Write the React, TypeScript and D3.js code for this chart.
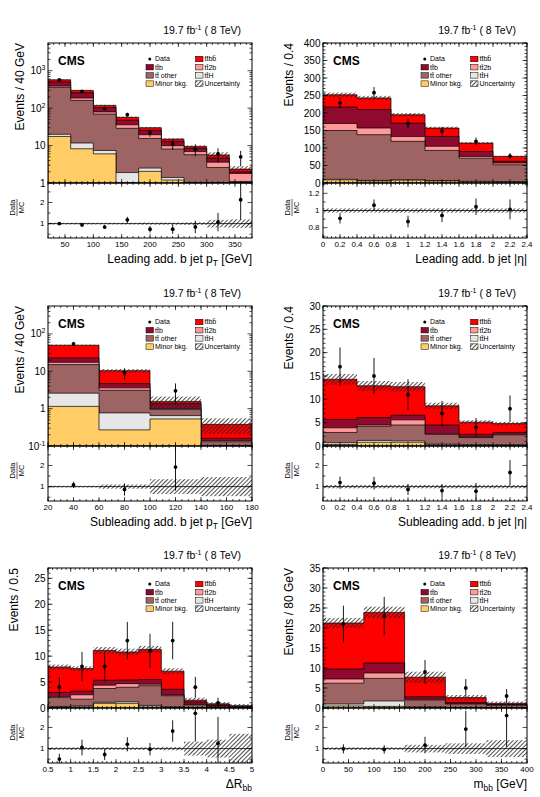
import React from 'react';
import * as d3 from 'd3';

const FONT = "'Liberation Sans', Arial, Helvetica, sans-serif";

// stack order, bottom to top: minor bkg, ttH, tt other, tt2b, ttb, ttbb
const procColors = ['#ffcc66', '#e6e6e6', '#9e6464', '#ff9999', '#8f0a2e', '#ff0000'];

// Leading add. b jet pT
const ptLeadEdges = [20, 60, 100, 140, 180, 220, 260, 300, 340, 380];
const ptLeadMinor = [17.5, 8.2, 6, 0.5, 2.05, 1.2, 0.3, 0.2, 0.05];
const ptLeadTtH = [2.5, 3.5, 1.4, 1.4, 0.45, 0.2, 0.2, 0.1, 0.05];
const ptLeadOther = [340, 150, 62, 27, 13, 6.7, 5.2, 2.3, 1.0];
const ptLeadTt2b = [30, 25, 10, 7, 4, 1.8, 1.2, 1, 0.7];
const ptLeadTtb = [110, 70, 24, 12, 6, 3, 1.6, 1, 0.15];
const ptLeadTtbb = [70, 40, 15, 9, 4.5, 2, 1, 1, 0.4];
const ptLeadData = [570, 279, 99, 67, 22, 11, 8, 6, 5];
const ptLeadUnc = [0.04, 0.04, 0.04, 0.04, 0.05, 0.05, 0.06, 0.18, 0.2];

// Leading add. b jet |eta|
const etaLeadEdges = [0, 0.4, 0.8, 1.2, 1.6, 2.0, 2.4];
const etaLeadMinor = [9, 6, 8, 6, 4, 3];
const etaLeadTtH = [1.5, 1.5, 1.2, 1, 0.8, 0.5];
const etaLeadOther = [139.5, 130.5, 109.8, 86, 66.2, 48.5];
const etaLeadTt2b = [20, 19, 14, 12, 5, 5];
const etaLeadTtb = [47, 53, 38, 28, 14, 5];
const etaLeadTtbb = [35, 33, 24, 24, 24, 14];
const etaLeadData = [229, 258, 170, 148, 119, 77];
const etaLeadUnc = [0.025, 0.025, 0.025, 0.025, 0.025, 0.025];

// Subleading add. b jet pT
const ptSubEdges = [20, 60, 100, 140, 180];
const ptSubMinor = [1.15, 0.27, 0.53, 0];
const ptSubTtH = [1.45, 0.5, 0.12, 0];
const ptSubOther = [12.5, 2.33, 0.29, 0.13];
const ptSubTt2b = [2.3, 0.5, 0.06, 0.01];
const ptSubTtb = [5.4, 1.1, 0.36, 0.02];
const ptSubTtbb = [27, 5.7, 0.2, 0.22];
const ptSubData = [54, 9, 3, 0];
const ptSubUnc = [0.04, 0.1, 0.35, 0.45];

// Subleading add. b jet |eta|
const etaSubEdges = [0, 0.4, 0.8, 1.2, 1.6, 2.0, 2.4];
const etaSubMinor = [0.3, 0.8, 0.8, 0.2, 0.1, 0.1];
const etaSubTtH = [0.4, 0.4, 0.3, 0.2, 0.2, 0.2];
const etaSubOther = [2.2, 3.0, 3.4, 2.1, 1.5, 2.1];
const etaSubTt2b = [1.0, 0.3, 1.1, 0.1, 0.1, 0.1];
const etaSubTtb = [1.8, 1.6, 1.0, 1.9, 0.6, 0.4];
const etaSubTtbb = [8.6, 6.8, 6.1, 4.1, 2.6, 1.9];
const etaSubData = [17, 15, 11, 7, 4, 8];
const etaSubUnc = [0.08, 0.08, 0.08, 0.08, 0.08, 0.08];

// Delta R bb
const drEdges = [0.5, 1.0, 1.5, 2.0, 2.5, 3.0, 3.5, 4.0, 4.5, 5.0];
const drMinor = [0.1, 0.2, 0.9, 0.9, 0.2, 0.1, 0.02, 0.01, 0];
const drTtH = [0.2, 0.2, 0.2, 0.3, 0.3, 0.1, 0.03, 0.01, 0];
const drOther = [1.7, 1.3, 2.66, 2.8, 3.8, 2.16, 0.55, 0.3, 0.2];
const drTt2b = [0.2, 0.85, 0.64, 0.7, 0.3, 0.14, 0.1, 0.05, 0.02];
const drTtb = [0.8, 0.7, 0.96, 0.7, 0.9, 1.1, 0.45, 0.2, 0.08];
const drTtbb = [4.9, 4.35, 5.74, 5.4, 5.8, 3.5, 0.35, 0.23, 0.15];
const drData = [4, 8, 8, 13, 11, 13, 4, 1, 0];
const drUnc = [0.06, 0.06, 0.06, 0.06, 0.06, 0.08, 0.33, 0.42, 0.7];

// m_bb
const mbbEdges = [0, 80, 160, 240, 320, 400];
const mbbMinor = [0.5, 0.4, 0.1, 0.05, 0.02];
const mbbTtH = [0.5, 1.35, 0.2, 0.1, 0.05];
const mbbOther = [5.2, 5.65, 1.7, 0.85, 0.6];
const mbbTt2b = [1.05, 1.35, 0.2, 0.1, 0.05];
const mbbTtb = [2.5, 2.5, 0.6, 0.3, 0.15];
const mbbTtbb = [11.5, 12.65, 4.9, 1.2, 0.3];
const mbbData = [21, 23, 9, 5, 3];
const mbbUnc = [0.06, 0.06, 0.18, 0.25, 0.4];

// axis ticks
const steps = (a: number, b: number, s: number) =>
  d3.range(Math.round((b - a) / s) + 1).map(i => +(a + i * s).toFixed(4));
const logMinor = (lo: number, hi: number) => {
  const out: number[] = [];
  for (let e = Math.floor(Math.log10(lo)); e <= Math.ceil(Math.log10(hi)); e++)
    for (let k = 2; k <= 9; k++) {
      const v = k * Math.pow(10, e);
      if (v > lo && v < hi) out.push(v);
    }
  return out;
};

const ratioMajor = [1, 2];
const ratioMinor = [0.5, 1.5, 2.5];
const ratioMajorEta = [0.8, 1, 1.2];
const ratioMinorEta = [0.7, 0.9, 1.1, 1.3];

const sub = (t: string) => <tspan dy={3} fontSize={8.5}>{t}</tspan>;

type Lab = string | [string, string];
type Cfg = {
  edges: number[]; comps: number[][]; data: number[]; unc: number[];
  log: boolean; yDomain: [number, number]; yMajor: number[]; yMinor: number[]; yLabels: Lab[];
  xDomain: [number, number]; xMajor: number[]; xMinor: number[];
  rDomain: [number, number]; rMajor: number[]; rMinor: number[];
  yTitle: string; yTitleX: number; xTitle: React.ReactNode;
};

const panels: Cfg[] = [
  {
    edges: ptLeadEdges, comps: [ptLeadMinor, ptLeadTtH, ptLeadOther, ptLeadTt2b, ptLeadTtb, ptLeadTtbb],
    data: ptLeadData, unc: ptLeadUnc, log: true, yDomain: [1, 5500],
    yMajor: [1, 10, 100, 1000], yMinor: logMinor(1, 5500), yLabels: ['1', '10', ['10', '2'], ['10', '3']],
    xDomain: [20, 380], xMajor: steps(50, 350, 50), xMinor: steps(20, 380, 10),
    rDomain: [0.32, 2.92], rMajor: ratioMajor, rMinor: ratioMinor,
    yTitle: 'Events / 40 GeV', yTitleX: -24.5,
    xTitle: <>Leading add. b jet p{sub('T')}<tspan dy={-3}> [GeV]</tspan></>,
  },
  {
    edges: etaLeadEdges, comps: [etaLeadMinor, etaLeadTtH, etaLeadOther, etaLeadTt2b, etaLeadTtb, etaLeadTtbb],
    data: etaLeadData, unc: etaLeadUnc, log: false, yDomain: [0, 400],
    yMajor: steps(0, 400, 50), yMinor: steps(0, 400, 10), yLabels: steps(0, 400, 50).map(String),
    xDomain: [0, 2.4], xMajor: steps(0, 2.4, 0.2), xMinor: steps(0, 2.4, 0.05),
    rDomain: [0.68, 1.32], rMajor: ratioMajorEta, rMinor: ratioMinorEta,
    yTitle: 'Events / 0.4', yTitleX: -30.5,
    xTitle: 'Leading add. b jet |η|',
  },
  {
    edges: ptSubEdges, comps: [ptSubMinor, ptSubTtH, ptSubOther, ptSubTt2b, ptSubTtb, ptSubTtbb],
    data: ptSubData, unc: ptSubUnc, log: true, yDomain: [0.1, 560],
    yMajor: [0.1, 1, 10, 100], yMinor: logMinor(0.1, 560), yLabels: [['10', '-1'], '1', '10', ['10', '2']],
    xDomain: [20, 180], xMajor: steps(20, 180, 20), xMinor: steps(20, 180, 5),
    rDomain: [0.32, 2.92], rMajor: ratioMajor, rMinor: ratioMinor,
    yTitle: 'Events / 40 GeV', yTitleX: -24.5,
    xTitle: <>Subleading add. b jet p{sub('T')}<tspan dy={-3}> [GeV]</tspan></>,
  },
  {
    edges: etaSubEdges, comps: [etaSubMinor, etaSubTtH, etaSubOther, etaSubTt2b, etaSubTtb, etaSubTtbb],
    data: etaSubData, unc: etaSubUnc, log: false, yDomain: [0, 30],
    yMajor: steps(0, 30, 5), yMinor: steps(0, 30, 1), yLabels: steps(0, 30, 5).map(String),
    xDomain: [0, 2.4], xMajor: steps(0, 2.4, 0.2), xMinor: steps(0, 2.4, 0.05),
    rDomain: [0.32, 2.92], rMajor: ratioMajor, rMinor: ratioMinor,
    yTitle: 'Events / 0.4', yTitleX: -30.5,
    xTitle: 'Subleading add. b jet |η|',
  },
  {
    edges: drEdges, comps: [drMinor, drTtH, drOther, drTt2b, drTtb, drTtbb],
    data: drData, unc: drUnc, log: false, yDomain: [0, 27],
    yMajor: steps(0, 25, 5), yMinor: steps(0, 27, 1), yLabels: steps(0, 25, 5).map(String),
    xDomain: [0.5, 5], xMajor: steps(0.5, 5, 0.5), xMinor: steps(0.5, 5, 0.1),
    rDomain: [0.32, 2.92], rMajor: ratioMajor, rMinor: ratioMinor,
    yTitle: 'Events / 0.5', yTitleX: -30.5,
    xTitle: <>ΔR{sub('bb')}</>,
  },
  {
    edges: mbbEdges, comps: [mbbMinor, mbbTtH, mbbOther, mbbTt2b, mbbTtb, mbbTtbb],
    data: mbbData, unc: mbbUnc, log: false, yDomain: [0, 35],
    yMajor: steps(0, 35, 5), yMinor: steps(0, 35, 1), yLabels: steps(0, 35, 5).map(String),
    xDomain: [0, 400], xMajor: steps(0, 400, 50), xMinor: steps(0, 400, 10),
    rDomain: [0.32, 2.92], rMajor: ratioMajor, rMinor: ratioMinor,
    yTitle: 'Events / 80 GeV', yTitleX: -30.5,
    xTitle: <>m{sub('bb')}<tspan dy={-3}> [GeV]</tspan></>,
  },
];

const W = 204, MH = 140, RH = 55;

function Legend({ x0, top }: { x0: number; top: number }) {
  const rows = [16, 24.2, 32.4, 40.6].map(d => top + d);
  const c1 = x0 + 98, c2 = x0 + 147.5, bw = 7.5, bh = 5.5;
  const box = (x: number, yc: number, fill: string) =>
    <rect x={x} y={yc - bh / 2} width={bw} height={bh} fill={fill} stroke="#000" strokeWidth={0.5} />;
  const lab = (x: number, yc: number, t: string) =>
    <text x={x + bw + 1.5} y={yc + 2.4} fontSize={7}>{t}</text>;
  return (
    <g>
      <circle cx={c1 + bw / 2} cy={rows[0]} r={1.5} fill="#000" />
      {lab(c1, rows[0], 'Data')}
      {box(c1, rows[1], procColors[4])}{lab(c1, rows[1], 'tt\u0304b')}
      {box(c1, rows[2], procColors[2])}{lab(c1, rows[2], 'tt\u0304 other')}
      {box(c1, rows[3], procColors[0])}{lab(c1, rows[3], 'Minor bkg.')}
      {box(c2, rows[0], procColors[5])}{lab(c2, rows[0], 'tt\u0304bb\u0304')}
      {box(c2, rows[1], procColors[3])}{lab(c2, rows[1], 'tt\u03042b')}
      {box(c2, rows[2], procColors[1])}{lab(c2, rows[2], 'tt\u0304H')}
      {box(c2, rows[3], 'url(#hatch)')}{lab(c2, rows[3], 'Uncertainty')}
    </g>
  );
}

function Panel({ cfg, x0, top, id }: { cfg: Cfg; x0: number; top: number; id: number }) {
  const x1 = x0 + W, yb = top + MH, rb = yb + RH;
  const x = d3.scaleLinear().domain(cfg.xDomain).range([x0, x1]);
  const y = (cfg.log ? d3.scaleLog() : d3.scaleLinear()).domain(cfg.yDomain).range([yb, top]).clamp(true);
  const yv = (v: number) => y(Math.max(v, cfg.yDomain[0]));
  const ry = d3.scaleLinear().domain(cfg.rDomain).range([rb, yb]);
  const nb = cfg.edges.length - 1;
  const bins = d3.range(nb);
  const cum = cfg.comps.map((_, k) => bins.map(i => d3.sum(cfg.comps.slice(0, k + 1), c => c[i])));
  const total = cum[cum.length - 1];
  const area = d3.area<[number, number]>().x(d => x(d[0])).y0(yb).y1(d => yv(d[1]));
  const stepPts = (vals: number[]) =>
    vals.flatMap((v, i) => [[cfg.edges[i], v], [cfg.edges[i + 1], v]] as [number, number][]);
  const mid = (i: number) => x((cfg.edges[i] + cfg.edges[i + 1]) / 2);
  const fmt = (v: number) => String(+v.toFixed(2));

  const xTicks = (yBase: number, yTop: number) => (
    <g stroke="#000" strokeWidth={0.7}>
      {cfg.xMinor.map((v, i) => <g key={'n' + i}>
        <line x1={x(v)} x2={x(v)} y1={yBase} y2={yBase - 2} />
        <line x1={x(v)} x2={x(v)} y1={yTop} y2={yTop + 2} /></g>)}
      {cfg.xMajor.map((v, i) => <g key={'j' + i}>
        <line x1={x(v)} x2={x(v)} y1={yBase} y2={yBase - 4} />
        <line x1={x(v)} x2={x(v)} y1={yTop} y2={yTop + 4} /></g>)}
    </g>
  );
  const yTicks = (sc: (v: number) => number, major: number[], minor: number[]) => (
    <g stroke="#000" strokeWidth={0.7}>
      {minor.map((v, i) => <g key={'n' + i}>
        <line x1={x0} x2={x0 + 2.5} y1={sc(v)} y2={sc(v)} />
        <line x1={x1} x2={x1 - 2.5} y1={sc(v)} y2={sc(v)} /></g>)}
      {major.map((v, i) => <g key={'j' + i}>
        <line x1={x0} x2={x0 + 4.5} y1={sc(v)} y2={sc(v)} />
        <line x1={x1} x2={x1 - 4.5} y1={sc(v)} y2={sc(v)} /></g>)}
    </g>
  );

  return (
    <g>
      <defs>
        <clipPath id={'m' + id}><rect x={x0} y={top} width={W} height={MH} /></clipPath>
        <clipPath id={'r' + id}><rect x={x0} y={yb} width={W} height={RH} /></clipPath>
      </defs>

      {/* stacked histograms, drawn top layer first */}
      <g clipPath={`url(#m${id})`}>
        {cum.map((c, k) => k).reverse().map(k => (
          <path key={k} d={area(stepPts(cum[k])) || ''} fill={procColors[k]} stroke="#000" strokeWidth={0.7} />
        ))}
        {bins.map(i => (
          <rect key={i} x={x(cfg.edges[i])} width={x(cfg.edges[i + 1]) - x(cfg.edges[i])}
            y={yv(total[i] * (1 + cfg.unc[i]))}
            height={yv(total[i] * (1 - cfg.unc[i])) - yv(total[i] * (1 + cfg.unc[i]))}
            fill="url(#hatch)" />
        ))}
        {bins.filter(i => cfg.data[i] > 0).map(i => {
          const d = cfg.data[i], e = Math.sqrt(d);
          return <g key={i}>
            <line x1={mid(i)} x2={mid(i)} y1={yv(d + e)} y2={yv(d - e)} stroke="#000" strokeWidth={0.9} />
            <circle cx={mid(i)} cy={yv(d)} r={1.9} fill="#000" />
          </g>;
        })}
      </g>

      {/* ratio panel */}
      <g clipPath={`url(#r${id})`}>
        {bins.map(i => (
          <rect key={i} x={x(cfg.edges[i])} width={x(cfg.edges[i + 1]) - x(cfg.edges[i])}
            y={ry(1 + cfg.unc[i])} height={ry(1 - cfg.unc[i]) - ry(1 + cfg.unc[i])} fill="url(#hatch)" />
        ))}
        <line x1={x0} x2={x1} y1={ry(1)} y2={ry(1)} stroke="#000" strokeWidth={0.8} />
        {bins.filter(i => cfg.data[i] > 0).map(i => {
          const r = cfg.data[i] / total[i], e = Math.sqrt(cfg.data[i]) / total[i];
          return <g key={i}>
            <line x1={mid(i)} x2={mid(i)} y1={ry(r + e)} y2={ry(r - e)} stroke="#000" strokeWidth={0.9} />
            <circle cx={mid(i)} cy={ry(r)} r={1.9} fill="#000" />
          </g>;
        })}
      </g>

      {/* frames and ticks */}
      <rect x={x0} y={top} width={W} height={MH} fill="none" stroke="#000" strokeWidth={1} />
      <rect x={x0} y={yb} width={W} height={RH} fill="none" stroke="#000" strokeWidth={1} />
      {xTicks(yb, top)}
      {xTicks(rb, yb)}
      {yTicks(yv, cfg.yMajor, cfg.yMinor)}
      {yTicks(ry, cfg.rMajor, cfg.rMinor)}

      {/* tick labels */}
      {cfg.yMajor.map((v, i) => {
        const l = cfg.yLabels[i];
        return <text key={i} x={x0 - 2.5} y={yv(v) + 3.5} fontSize={10} textAnchor="end">
          {typeof l === 'string' ? l : <>{l[0]}<tspan dy={-4} fontSize={7}>{l[1]}</tspan></>}
        </text>;
      })}
      {cfg.rMajor.map((v, i) => (
        <text key={i} x={x0 - 3.5} y={ry(v) + 2.8} fontSize={8} textAnchor="end">{fmt(v)}</text>
      ))}
      {cfg.xMajor.map((v, i) => (
        <text key={i} x={x(v)} y={rb + 9} fontSize={8} textAnchor="middle">{fmt(v)}</text>
      ))}

      {/* titles */}
      <text transform={`translate(${x0 + cfg.yTitleX},${top}) rotate(-90)`} textAnchor="end" fontSize={12}>{cfg.yTitle}</text>
      <text x={x1} y={rb + 24.5} textAnchor="end" fontSize={12}>{cfg.xTitle}</text>
      <g transform={`translate(${x0 - 31},${(yb + rb) / 2 - 3}) rotate(-90)`} fontSize={7.5}>
        <text x={0} y={-1.6} textAnchor="middle">Data</text>
        <line x1={-8.5} x2={8.5} y1={0} y2={0} stroke="#000" strokeWidth={0.6} />
        <text x={0} y={7} textAnchor="middle">MC</text>
      </g>
      <text x={x1 - 11} y={top - 9} textAnchor="end" fontSize={10.5}>
        19.7 fb<tspan dy={-4} fontSize={7}>-1</tspan><tspan dy={4}> ( 8 TeV)</tspan>
      </text>
      <text x={x0 + 10} y={top + 21.5} fontSize={12} fontWeight="bold">CMS</text>
      <Legend x0={x0} top={top} />
    </g>
  );
}

export default function App() {
  const cols = [48, 323];
  const rows = [43, 306, 568];
  return (
    <svg width={540} height={797} style={{ position: 'absolute', left: 0, top: 0, display: 'block' }} fontFamily={FONT}>
      <defs>
        <pattern id="hatch" patternUnits="userSpaceOnUse" width={3} height={3} patternTransform="rotate(45)">
          <line x1={1.5} y1={0} x2={1.5} y2={3} stroke="#222" strokeWidth={0.8} />
        </pattern>
      </defs>
      <rect width={540} height={797} fill="#fff" />
      {panels.map((p, i) => (
        <Panel key={i} cfg={p} x0={cols[i % 2]} top={rows[Math.floor(i / 2)]} id={i} />
      ))}
    </svg>
  );
}
